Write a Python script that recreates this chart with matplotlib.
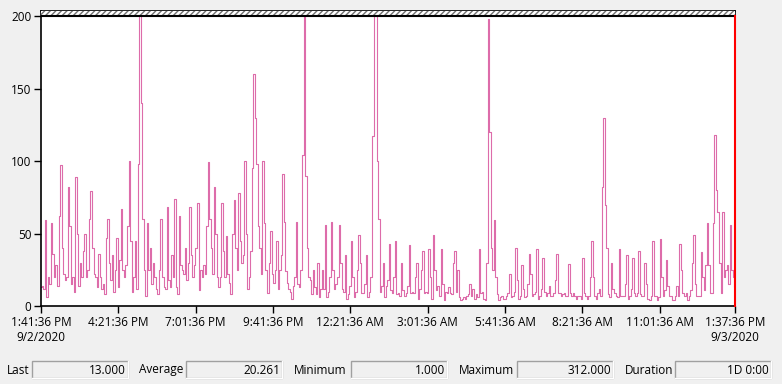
import numpy as np
import matplotlib
matplotlib.use('Agg')
import matplotlib.pyplot as plt
from matplotlib.patches import Rectangle

plt.rcParams['font.family'] = ['Open Sans', 'DejaVu Sans']

seg1 = [13, 14, 12, 59, 6, 20, 15, 57, 36, 20, 28, 14, 62, 97, 40, 22, 18, 20, 82, 55,
        15, 20, 10, 89, 50, 14, 30, 20, 38, 50, 20, 25, 60, 79, 40, 22, 20, 13, 36, 20,
        12, 15, 8, 47, 60, 30, 18, 35, 10, 25, 47, 13, 32, 67, 25, 20, 28, 55, 100, 45,
        10, 20, 45, 12, 98, 312, 140, 60, 25, 7, 57, 25, 40, 15, 30, 20, 12, 8, 25, 60,
        20, 13, 12, 68, 18, 13, 35, 20, 74, 13, 8, 62, 28, 25]
seg2 = [22, 40, 18, 30, 68, 35, 20, 28, 40, 71, 11, 25, 20, 28, 22, 55, 99, 60, 40, 22,
        82, 50, 20, 13, 20, 71, 38, 20, 48, 22, 16, 8, 50, 73, 40, 25, 78, 45, 30, 35,
        100, 50, 12, 20, 38, 95, 160, 130, 98, 55, 40, 22, 100, 57, 25, 9, 30, 52, 22, 16,
        25, 45, 12, 25, 35, 91, 58, 24, 16, 12, 10, 5, 14, 20, 58, 15, 13, 25, 104, 260,
        90, 40, 20, 18, 8, 25, 13, 8, 30, 6, 12, 25]
seg3 = [12, 56, 6, 10, 20, 58, 25, 12, 15, 20, 56, 30, 12, 10, 35, 5, 8, 14, 45, 20,
        6, 10, 25, 49, 30, 9, 9, 15, 35, 6, 10, 20, 117, 240, 200, 100, 60, 10, 14, 30,
        6, 14, 18, 43, 11, 9, 20, 45, 8, 9, 7, 30, 11, 7, 9, 14, 42, 9, 10, 9,
        20, 30, 5, 12, 25, 38, 9, 10, 9, 39, 20, 5, 49, 25, 11, 14, 7, 39, 15, 4,
        10, 9, 13, 9, 8, 30]
seg4 = [38, 10, 25, 6, 4, 5, 6, 5, 7, 8, 15, 7, 12, 5, 8, 6, 39, 9, 10, 5,
        4, 30, 198, 120, 40, 25, 59, 20, 8, 4, 6, 7, 5, 5, 7, 9, 22, 6, 7, 10,
        40, 18, 5, 7, 28, 12, 6, 7, 15, 36, 22, 7, 8, 10, 39, 5, 7, 12, 33, 10,
        7, 9, 14, 7, 7, 9, 18, 36, 9, 9, 7, 8, 9, 7, 7, 29, 9, 7, 9, 7,
        5, 7, 7, 5, 33, 9, 7, 5, 7, 20, 45, 20, 7, 5, 9, 12, 7]
seg5 = [82, 130, 70, 40, 8, 6, 30, 12, 9, 7, 6, 39, 7, 7, 7, 15, 35, 5, 7, 12,
        33, 9, 7, 9, 38, 8, 7, 7, 30, 15, 5, 4, 7, 45, 7, 7, 4, 6, 46, 20,
        7, 11, 32, 14, 7, 7, 4, 4, 7, 14, 7, 43, 25, 9, 7, 9, 4, 7, 11, 30,
        49, 15, 7, 7, 7, 37, 20, 11, 28, 57, 28, 9, 9, 57, 118, 80, 65, 30, 9, 65,
        20, 25, 28, 15, 56, 25, 20, 13]
values = seg1 + seg2 + seg3 + seg4 + seg5

span_min = 1436  # 1:41:36 PM 9/2 -> 1:37:36 PM 9/3
tick_min = [0, 160, 320, 480, 640, 800, 960, 1120, 1280, 1436]
tick_labels = ['1:41:36 PM\n9/2/2020', '4:21:36 PM', '7:01:36 PM', '9:41:36 PM',
               '12:21:36 AM', '3:01:36 AM', '5:41:36 AM', '8:21:36 AM',
               '11:01:36 AM', '1:37:36 PM\n9/3/2020']

stat_names = ['Last', 'Average', 'Minimum', 'Maximum', 'Duration']
stat_values = ['13.000', '20.261', '1.000', '312.000', '1D 0:00']

W, H = 782, 384
bg = '#F0F0F0'
fig = plt.figure(figsize=(W / 100, H / 100), dpi=100, facecolor=bg)
ax = fig.add_axes([41 / W, 1 - 306 / H, 694 / W, 295 / H])
ax.set_facecolor('white')

t = np.linspace(0, span_min, len(values))
ax.plot(t, values, color='#DD6CAA', lw=0.8, drawstyle='steps-mid')

top = 203.5
ax.set_ylim(0, top)
ax.set_xlim(0, span_min)
ax.axhspan(200, top, facecolor='white', edgecolor='#707070', hatch='//////', lw=0, zorder=3)
ax.axhline(200, color='black', lw=1.5, zorder=4)
ax.plot([span_min, span_min], [0, 200], color='red', lw=1.5, zorder=5, clip_on=False)

ax.set_yticks([0, 50, 100, 150, 200])
ax.set_xticks(tick_min)
ax.set_xticklabels(tick_labels)
ax.tick_params(axis='both', direction='out', length=5, width=1, color='black',
               labelsize=8.5, pad=2)
for s in ax.spines.values():
    s.set_color('black')
    s.set_linewidth(1.2)

# stat boxes along the bottom
label_x = [7, 139, 294, 459, 625]
box_x = [32, 186, 351, 517, 675]
box_w = 96
y0, y1 = 361, 378
for name, val, lx, bx in zip(stat_names, stat_values, label_x, box_x):
    fig.text(lx / W, 1 - 370 / H, name, fontsize=8.5, va='center', ha='left')
    fig.patches.append(Rectangle((bx / W, 1 - y1 / H), box_w / W, (y1 - y0) / H,
                                 transform=fig.transFigure, facecolor=bg,
                                 edgecolor='#A0A0A0', lw=1))
    fig.lines.append(plt.Line2D([bx / W, (bx + box_w) / W, (bx + box_w) / W],
                                [1 - y1 / H, 1 - y1 / H, 1 - y0 / H],
                                transform=fig.transFigure, color='white', lw=1))
    fig.text((bx + box_w - 2) / W, 1 - 370 / H, val, fontsize=8.5, va='center', ha='right')

fig.savefig('out.png', dpi=100, facecolor=bg)
